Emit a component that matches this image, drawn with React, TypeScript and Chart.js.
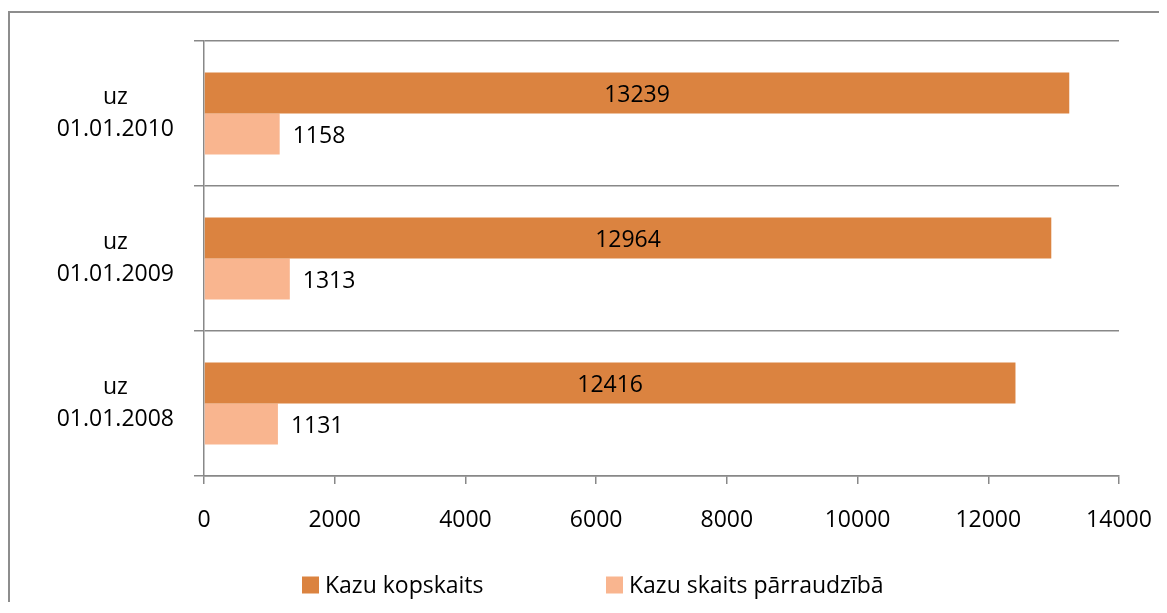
import React, { useEffect, useRef } from "react";
import { Chart, registerables } from "chart.js";

Chart.register(...registerables);

const categories: string[][] = [
  ["uz", "01.01.2010"],
  ["uz", "01.01.2009"],
  ["uz", "01.01.2008"],
];
const totalCases = [13239, 12964, 12416];
const monitoredCases = [1158, 1313, 1131];
const seriesNames = ["Kazu kopskaits", "Kazu skaits pārraudzībā"];
const seriesColors = ["#DB8340", "#F9B58F"];
const xTicks = [0, 2000, 4000, 6000, 8000, 10000, 12000, 14000];

const FONT = '"Open Sans", "Noto Sans", sans-serif';
const FONT_SIZE = 23;
const AXIS_COLOR = "#888888";

const barLabelsPlugin = {
  id: "barLabels",
  afterDatasetsDraw(chart: any) {
    const ctx = chart.ctx;
    ctx.save();
    ctx.font = `${FONT_SIZE}px ${FONT}`;
    ctx.fillStyle = "#000000";
    ctx.textBaseline = "middle";
    chart.data.datasets.forEach((ds: any, di: number) => {
      const meta = chart.getDatasetMeta(di);
      meta.data.forEach((bar: any, i: number) => {
        const v = ds.data[i];
        const p = bar.getProps(["x", "y", "base"], true);
        if (di === 0) {
          ctx.textAlign = "center";
          ctx.fillText(String(v), (p.x + p.base) / 2, p.y + 2);
        } else {
          ctx.textAlign = "left";
          ctx.fillText(String(v), p.x + 13, p.y + 2);
        }
      });
    });
    ctx.restore();
  },
};

const legendPlugin = {
  id: "customLegend",
  afterDraw(chart: any) {
    const ctx = chart.ctx;
    ctx.save();
    ctx.font = `${FONT_SIZE}px ${FONT}`;
    ctx.textBaseline = "middle";
    ctx.textAlign = "left";
    const y = 572;
    const starts = [292, 596];
    chart.data.datasets.forEach((ds: any, i: number) => {
      const x = starts[i];
      ctx.fillStyle = ds.backgroundColor;
      ctx.fillRect(x, y - 8.5, 17, 17);
      ctx.fillStyle = "#000000";
      ctx.fillText(ds.label, x + 23, y + 1);
    });
    ctx.restore();
  },
};

export default function App() {
  const canvasRef = useRef<HTMLCanvasElement | null>(null);

  useEffect(() => {
    if (!canvasRef.current) return;
    Chart.defaults.font.family = FONT;
    Chart.defaults.font.size = FONT_SIZE;
    Chart.defaults.color = "#000000";
    const chart = new Chart(canvasRef.current, {
      type: "bar",
      data: {
        labels: categories,
        datasets: [
          {
            label: seriesNames[0],
            data: totalCases,
            backgroundColor: seriesColors[0],
            categoryPercentage: 0.566,
            barPercentage: 1.0,
          },
          {
            label: seriesNames[1],
            data: monitoredCases,
            backgroundColor: seriesColors[1],
            categoryPercentage: 0.566,
            barPercentage: 1.0,
          },
        ],
      },
      options: {
        indexAxis: "y",
        animation: false,
        responsive: false,
        layout: { padding: { top: 28, left: 20, right: 40, bottom: 0 } },
        plugins: {
          legend: { display: false },
          tooltip: { enabled: false },
        },
        scales: {
          x: {
            type: "linear",
            min: 0,
            max: 14000,
            afterBuildTicks: (scale: any) => {
              scale.ticks = xTicks.map((v) => ({ value: v }));
            },
            afterFit: (scale: any) => {
              scale.height = 127;
              scale.paddingLeft = 0;
              scale.paddingRight = 0;
            },
            grid: {
              drawOnChartArea: false,
              drawTicks: true,
              tickLength: 8,
              color: AXIS_COLOR,
              lineWidth: 1.5,
            },
            border: { color: AXIS_COLOR, width: 1.5 },
            ticks: {
              padding: 23,
              color: "#000000",
              maxRotation: 0,
              font: { size: FONT_SIZE },
              callback: (v: any) => String(v),
            },
          },
          y: {
            type: "category",
            afterFit: (scale: any) => {
              scale.width = 174;
              scale.paddingTop = 0;
              scale.paddingBottom = 0;
            },
            grid: {
              offset: true,
              color: AXIS_COLOR,
              lineWidth: 1.5,
              tickLength: 10,
            },
            border: { color: AXIS_COLOR, width: 1.5 },
            ticks: {
              crossAlign: "center",
              padding: 20,
              color: "#000000",
              font: { size: FONT_SIZE, lineHeight: 1.4 },
            },
          },
        },
      },
      plugins: [barLabelsPlugin, legendPlugin],
    } as any);
    return () => chart.destroy();
  }, []);

  return (
    <div
      style={{
        position: "relative",
        top: 3,
        width: 1151,
        height: 594,
        boxSizing: "border-box",
        borderLeft: "2px solid #8d8d8d",
        borderTop: "2px solid #8d8d8d",
        background: "#ffffff",
      }}
    >
      <canvas ref={canvasRef} width={1149} height={590} style={{ display: "block" }} />
    </div>
  );
}
